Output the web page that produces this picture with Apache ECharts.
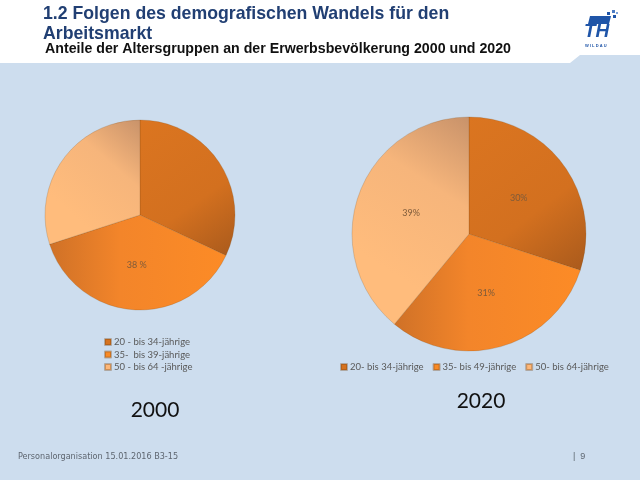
<!DOCTYPE html>
<html>
<head>
<meta charset="utf-8">
<script src="https://cdn.jsdelivr.net/npm/echarts@6/dist/echarts.min.js"></script>
<style>
html,body{margin:0;padding:0;background:#fff;}
#c{width:640px;height:480px;}
</style>
</head>
<body>
<div id="c"></div>
<script>
const categories2000 = ['20 - bis 34-jährige', '35-  bis 39-jährige', '50 - bis 64 -jährige'];
const values2000 = [32, 38, 30];
const labels2000 = ['', '38 %', ''];
const categories2020 = ['20- bis 34-jährige', '35- bis 49-jährige', '50- bis 64-jährige'];
const values2020 = [30, 31, 39];
const labels2020 = ['30%', '31%', '39%'];
const yearLabels = ['2000', '2020'];

const solid = ['#D6721E', '#F98A25', '#FDB779'];
const grads = [
  {type:'linear', x:0, y:0, x2:1, y2:1, colorStops:[{offset:0,color:'#DB7520'},{offset:0.6,color:'#D3701F'},{offset:1,color:'#A95A1C'}]},
  {type:'linear', x:0, y:0, x2:1, y2:0, colorStops:[{offset:0,color:'#CF7127'},{offset:0.4,color:'#F3852A'},{offset:1,color:'#FC8B26'}]},
  {type:'linear', x:1, y:0, x2:0.2, y2:0.7, colorStops:[{offset:0,color:'#C8926A'},{offset:0.45,color:'#F6B57B'},{offset:1,color:'#FFBC7C'}]}
];

function pieData(cats, vals, labs) {
  return cats.map((n, i) => ({
    name: n, value: vals[i],
    itemStyle: {color: grads[i]},
    label: {show: labs[i] !== '', formatter: labs[i] || ' '}
  }));
}
function legendData(cats) {
  return cats.map((n, i) => ({name: n, itemStyle: {color: solid[i]}}));
}

const chart = echarts.init(document.getElementById('c'), null, {renderer: 'canvas'});
const pieCommon = {
  type: 'pie',
  startAngle: 90,
  clockwise: true,
  avoidLabelOverlap: false,
  animation: false,
  label: {position: 'inside', color: '#7E5B3A', fontSize: 9, fontFamily: 'Lato'},
  labelLine: {show: false},
  itemStyle: {borderColor: 'rgba(120,70,20,0.35)', borderWidth: 0.6},
  emphasis: {disabled: true}
};
const legendText = {fontSize: 9.5, fontFamily: 'Lato', color: '#595959', lineHeight: 12, padding: [0, 0, 0, -2]};
chart.setOption({
  animation: false,
  graphic: [
    {type: 'rect', z: -10, shape: {x: 0, y: 63, width: 640, height: 417}, style: {fill: '#CDDDEE'}},
    {type: 'polygon', z: -10, shape: {points: [[570, 63], [580, 55], [640, 55], [640, 63]]}, style: {fill: '#CDDDEE'}},
    {type: 'text', left: 43, top: 5, style: {text: '1.2 Folgen des demografischen Wandels für den', font: 'bold 17.7px "Liberation Sans"', fill: '#213F73'}},
    {type: 'text', left: 43, top: 25, style: {text: 'Arbeitsmarkt', font: 'bold 17.7px "Liberation Sans"', fill: '#213F73'}},
    {type: 'text', left: 45, top: 42, style: {text: 'Anteile der Altersgruppen an der Erwerbsbevölkerung 2000 und 2020', font: 'bold 14.2px "Liberation Sans"', fill: '#111'}},
    {type: 'text', x: 155, y: 410, style: {text: yearLabels[0], font: '21px Lato', fill: '#111', align: 'center', verticalAlign: 'middle'}},
    {type: 'text', x: 481, y: 401, style: {text: yearLabels[1], font: '21px Lato', fill: '#111', align: 'center', verticalAlign: 'middle'}},
    {type: 'text', x: 18, y: 457, style: {text: 'Personalorganisation 15.01.2016 B3-15', font: '9px "Liberation Sans Narrow", "DejaVu Sans Condensed", sans-serif', fill: '#5E6670', verticalAlign: 'middle'}},
    {type: 'text', x: 573, y: 457, style: {text: '|  9', font: '9px "Liberation Sans Narrow", sans-serif', fill: '#5E6670', verticalAlign: 'middle'}},
    // logo
    {type: 'polygon', shape: {points: [[590, 16], [611, 16], [609, 24], [588, 24]]}, style: {fill: '#1F55A8'}},
    {type: 'text', x: 584, y: 22, style: {text: 'TH', font: 'italic bold 19px "Liberation Sans"', fill: '#1F55A8'}},
    {type: 'rect', shape: {x: 607, y: 12, width: 3, height: 3}, style: {fill: '#1F55A8'}},
    {type: 'rect', shape: {x: 612, y: 10, width: 3, height: 3}, style: {fill: '#4C7CC4'}},
    {type: 'rect', shape: {x: 613, y: 15, width: 3, height: 3}, style: {fill: '#1F55A8'}},
    {type: 'rect', shape: {x: 616, y: 12, width: 2, height: 2}, style: {fill: '#7EA2D6'}},
    {type: 'text', x: 585, y: 44, style: {text: 'W I L D A U', font: 'bold 4px "Liberation Sans"', fill: '#1F55A8'}}
  ],
  legend: [
    {
      orient: 'vertical', left: 104, top: 336, padding: 0, itemWidth: 6, itemHeight: 6, itemGap: 0.5,
      icon: 'rect', selectedMode: false,
      textStyle: legendText,
      data: legendData(categories2000)
    },
    {
      orient: 'horizontal', left: 340, top: 361, padding: 0, itemWidth: 6, itemHeight: 6, itemGap: 9,
      icon: 'rect', selectedMode: false,
      textStyle: legendText,
      data: legendData(categories2020)
    }
  ],
  series: [
    Object.assign({}, pieCommon, {name: '2000', center: [140, 215], radius: 95, data: pieData(categories2000, values2000, labels2000)}),
    Object.assign({}, pieCommon, {name: '2020', center: [469, 234], radius: 117, data: pieData(categories2020, values2020, labels2020)})
  ]
});
</script>
</body>
</html>
